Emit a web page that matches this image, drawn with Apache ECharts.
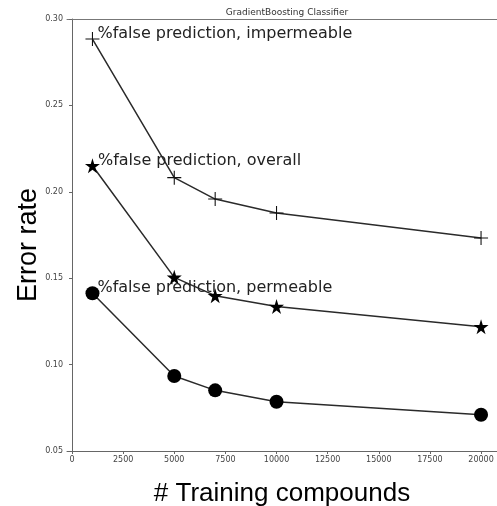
<!DOCTYPE html>
<html><head><meta charset="utf-8">
<script src="https://cdn.jsdelivr.net/npm/echarts@6/dist/echarts.min.js"></script>
<style>html,body{margin:0;padding:0;background:#fff}#c{width:497px;height:506px}</style>
</head><body><div id="c"></div>
<script>
const trainingSizes = [1000, 5000, 7000, 10000, 20000];
const impermeable = [0.2884, 0.2082, 0.1958, 0.1877, 0.1733];
const overall = [0.2151, 0.1505, 0.1399, 0.1336, 0.1219];
const permeable = [0.1413, 0.0934, 0.0851, 0.0785, 0.0710];
const xTicks = [0, 2500, 5000, 7500, 10000, 12500, 15000, 17500, 20000];
const yTicks = [0.05, 0.10, 0.15, 0.20, 0.25, 0.30];
const labels = ['%false prediction, impermeable', '%false prediction, overall', '%false prediction, permeable'];
const title = 'GradientBoosting Classifier';
const xName = '# Training compounds';
const yName = 'Error rate';

const PLUS = 'path://M6,0h1v13h-1z M0,6h13v1h-13z';
const STAR = 'path://M50,0 L61,35 L98,35 L68,57 L79,91 L50,70 L21,91 L32,57 L2,35 L39,35 Z';

function mk(vals, symbol, size, label, fill) {
  return {
    type: 'line',
    xAxisIndex: 0,
    data: trainingSizes.map((x, i) => ({
      value: [x, vals[i]],
      label: i === 0 ? {show: true, formatter: label} : {show: false}
    })),
    symbol: symbol,
    symbolSize: size,
    showAllSymbol: true,
    lineStyle: {color: '#2a2a2a', width: 1.5},
    itemStyle: {color: fill, borderWidth: 0},
    label: {position: 'right', distance: -2, offset: [0, -5], color: '#222', fontFamily: 'DejaVu Sans', fontSize: 16},
    z: 3,
    animation: false
  };
}

const chart = echarts.init(document.getElementById('c'), null, {renderer: 'canvas'});
chart.setOption({
  animation: false,
  title: {text: title, left: 282, top: 3, textAlign: 'center',
    textStyle: {fontFamily: 'DejaVu Sans', fontSize: 9, fontWeight: 'normal', color: '#333'}},
  grid: {left: 67, right: 0, top: 19, bottom: 55, containLabel: false, outerBoundsMode: 'none'},
  xAxis: [{
    type: 'value', min: -245, max: 20780,
    name: xName, nameLocation: 'middle', nameGap: 30, nameMoveOverlap: false,
    nameTextStyle: {fontFamily: 'Liberation Sans', fontSize: 26, color: '#000'},
    axisLine: {show: true, lineStyle: {color: '#666'}},
    axisTick: {show: true, length: 3, customValues: xTicks, lineStyle: {color: '#666'}},
    axisLabel: {customValues: xTicks, fontFamily: 'DejaVu Sans', fontSize: 8, color: '#444', margin: 5,
      formatter: v => String(v)},
    splitLine: {show: false}
  }, {
    type: 'value', position: 'top', min: -245, max: 20780,
    axisLine: {show: true, onZero: false, lineStyle: {color: '#777'}},
    axisTick: {show: false}, axisLabel: {show: false}, splitLine: {show: false}
  }],
  yAxis: {
    type: 'value', min: 0.05, max: 0.30,
    name: yName, nameLocation: 'middle', nameGap: 25, nameMoveOverlap: false,
    nameTextStyle: {fontFamily: 'Liberation Sans', fontSize: 27, color: '#000', padding: [0, 20, 0, 0]},
    axisLine: {show: true, lineStyle: {color: '#666'}},
    axisTick: {show: true, length: 3, customValues: yTicks, lineStyle: {color: '#666'}},
    axisLabel: {customValues: yTicks, fontFamily: 'DejaVu Sans', fontSize: 8, color: '#444', margin: 4,
      formatter: v => v.toFixed(2)},
    splitLine: {show: false}
  },
  series: [
    mk(impermeable, PLUS, 14, labels[0], '#111'),
    mk(overall, STAR, 15, labels[1], '#000'),
    mk(permeable, 'circle', 14, labels[2], '#000')
  ]
});
</script></body></html>
